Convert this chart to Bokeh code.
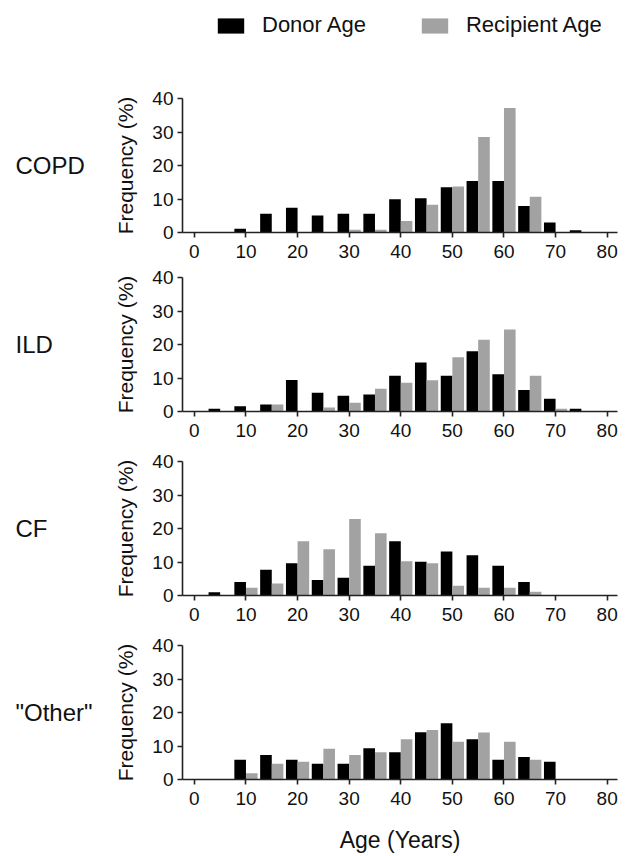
from bokeh.plotting import figure
from bokeh.layouts import column, row
from bokeh.models import ColumnDataSource, Range1d, FixedTicker, Legend, LegendItem
from bokeh.core.properties import value
from bokeh.transform import dodge
from bokeh.embed import file_html
from bokeh.resources import INLINE

FONT = "Liberation Sans"

# Age bins (centre between the donor and recipient bars), years
bins = [5, 10, 15, 20, 25, 30, 35, 40, 45, 50, 55, 60, 65, 70, 75]

copd_donor = [0, 1.1, 5.6, 7.4, 5.1, 5.6, 5.6, 9.9, 10.2, 13.5, 15.4, 15.4, 7.9, 3.0, 0.7]
copd_recip = [0, 0, 0, 0, 0, 0.8, 0.8, 3.4, 8.3, 13.7, 28.5, 37.2, 10.7, 0, 0]
ild_donor = [0.8, 1.6, 2.1, 9.4, 5.6, 4.7, 5.1, 10.7, 14.6, 10.7, 18.0, 11.1, 6.4, 3.8, 0.8]
ild_recip = [0, 0, 2.1, 0, 1.2, 2.6, 6.8, 8.6, 9.3, 16.2, 21.4, 24.5, 10.7, 0.8, 0]
cf_donor = [1.0, 4.0, 7.7, 9.6, 4.6, 5.3, 8.9, 16.2, 10.1, 13.1, 12.0, 8.9, 4.0, 0, 0]
cf_recip = [0, 2.3, 3.6, 16.2, 13.8, 22.8, 18.6, 10.2, 9.6, 2.9, 2.3, 2.3, 1.1, 0, 0]
other_donor = [0, 5.9, 7.3, 5.9, 4.7, 4.7, 9.3, 8.1, 14.1, 16.8, 12.0, 5.9, 6.7, 5.3, 0]
other_recip = [0, 1.9, 4.7, 5.3, 9.2, 7.3, 8.1, 12.0, 14.8, 11.3, 14.0, 11.3, 5.9, 0, 0]

panels = ["COPD", "ILD", "CF", "\"Other\""]
donor_series = [copd_donor, ild_donor, cf_donor, other_donor]
recip_series = [copd_recip, ild_recip, cf_recip, other_recip]
series_names = ["Donor Age", "Recipient Age"]

x_ticks = [0, 10, 20, 30, 40, 50, 60, 70, 80]
y_ticks = [0, 10, 20, 30, 40]

DONOR_COLOR = "#000000"
RECIP_COLOR = "#a2a2a2"
AXIS_COLOR = "#222222"
TEXT_COLOR = "#111111"

LABEL_W = 110
PLOT_W = 520

# ---- legend strip at the top ----
lf = figure(width=LABEL_W + PLOT_W, height=48, output_backend="svg", toolbar_location=None,
            x_range=Range1d(0, 1), y_range=Range1d(0, 1),
            min_border_left=0, min_border_right=0,
            min_border_top=0, min_border_bottom=0)
lf.axis.visible = False
lf.grid.visible = False
lf.outline_line_color = None
# legend proxies: zero-height bars placed outside the visible range
proxy = ColumnDataSource(dict(x=[bins[0]], top=[0]))
ld = lf.vbar(x="x", top="top", width=1, source=proxy, fill_color=DONOR_COLOR, line_color=None)
lr = lf.vbar(x="x", top="top", width=1, source=proxy, fill_color=RECIP_COLOR, line_color=None)
leg = Legend(items=[LegendItem(label=series_names[0], renderers=[ld]),
                    LegendItem(label=series_names[1], renderers=[lr])],
             location=(214, 10), orientation="horizontal",
             glyph_width=33, glyph_height=19, label_standoff=15, spacing=52,
             padding=0, margin=0, border_line_color=None,
             background_fill_alpha=0, label_text_font=FONT,
             label_text_font_size="22px", label_text_color=TEXT_COLOR)
lf.add_layout(leg, "center")

# (height, border_top, border_bottom)
layout = [(220, 50, 36), (179, 9, 36), (184, 14, 36), (225, 14, 77)]

rows = [lf]
for i, (name, d, r) in enumerate(zip(panels, donor_series, recip_series)):
    h, bt, bb = layout[i]
    # panel name strip
    nf = figure(width=LABEL_W, height=h, output_backend="svg", toolbar_location=None,
                x_range=Range1d(0, LABEL_W), y_range=Range1d(0, 40),
                min_border_left=0, min_border_right=0,
                min_border_top=bt, min_border_bottom=bb)
    nf.axis.visible = False
    nf.grid.visible = False
    nf.outline_line_color = None
    nf.text(x=[15], y=[20], text=[name], text_font=value(FONT), text_font_size="24px",
            text_color=TEXT_COLOR, text_align="left", text_baseline="middle")

    p = figure(width=PLOT_W, height=h, output_backend="svg", toolbar_location=None,
               x_range=Range1d(-2.3, 82.0), y_range=Range1d(0, 40),
               min_border_left=182 - LABEL_W, min_border_right=13,
               min_border_top=bt, min_border_bottom=bb)
    src = ColumnDataSource(dict(age=bins, donor=d, recip=r))
    p.vbar(x=dodge("age", -1.125, range=p.x_range), top="donor", width=2.25,
           source=src, fill_color=DONOR_COLOR, line_color=None)
    p.vbar(x=dodge("age", 1.125, range=p.x_range), top="recip", width=2.25,
           source=src, fill_color=RECIP_COLOR, line_color=None)
    p.xgrid.visible = False
    p.ygrid.visible = False
    p.outline_line_color = None
    for ax in (p.xaxis[0], p.yaxis[0]):
        ax.axis_line_color = AXIS_COLOR
        ax.axis_line_width = 1.6
        ax.major_tick_line_color = AXIS_COLOR
        ax.major_tick_line_width = 1.6
        ax.major_tick_out = 5
        ax.major_tick_in = 0
        ax.minor_tick_line_color = None
        ax.major_label_text_font = FONT
        ax.major_label_text_font_size = "19px"
        ax.major_label_text_color = TEXT_COLOR
        ax.axis_label_text_font = FONT
        ax.axis_label_text_font_style = "normal"
        ax.axis_label_text_color = TEXT_COLOR
    p.xaxis[0].ticker = FixedTicker(ticks=x_ticks)
    p.yaxis[0].ticker = FixedTicker(ticks=y_ticks)
    p.xaxis[0].major_label_standoff = 7
    p.yaxis[0].major_label_standoff = 4
    p.yaxis[0].axis_label = "Frequency (%)"
    p.yaxis[0].axis_label_text_font_size = "21px"
    p.yaxis[0].axis_label_standoff = 12
    if i == 3:
        p.xaxis[0].axis_label = "Age (Years)"
        p.xaxis[0].axis_label_text_font_size = "23px"
        p.xaxis[0].axis_label_standoff = 19
    rows.append(row(nf, p, spacing=0))

page = column(*rows, spacing=0)
open("out.html", "w").write(file_html(page, INLINE))
